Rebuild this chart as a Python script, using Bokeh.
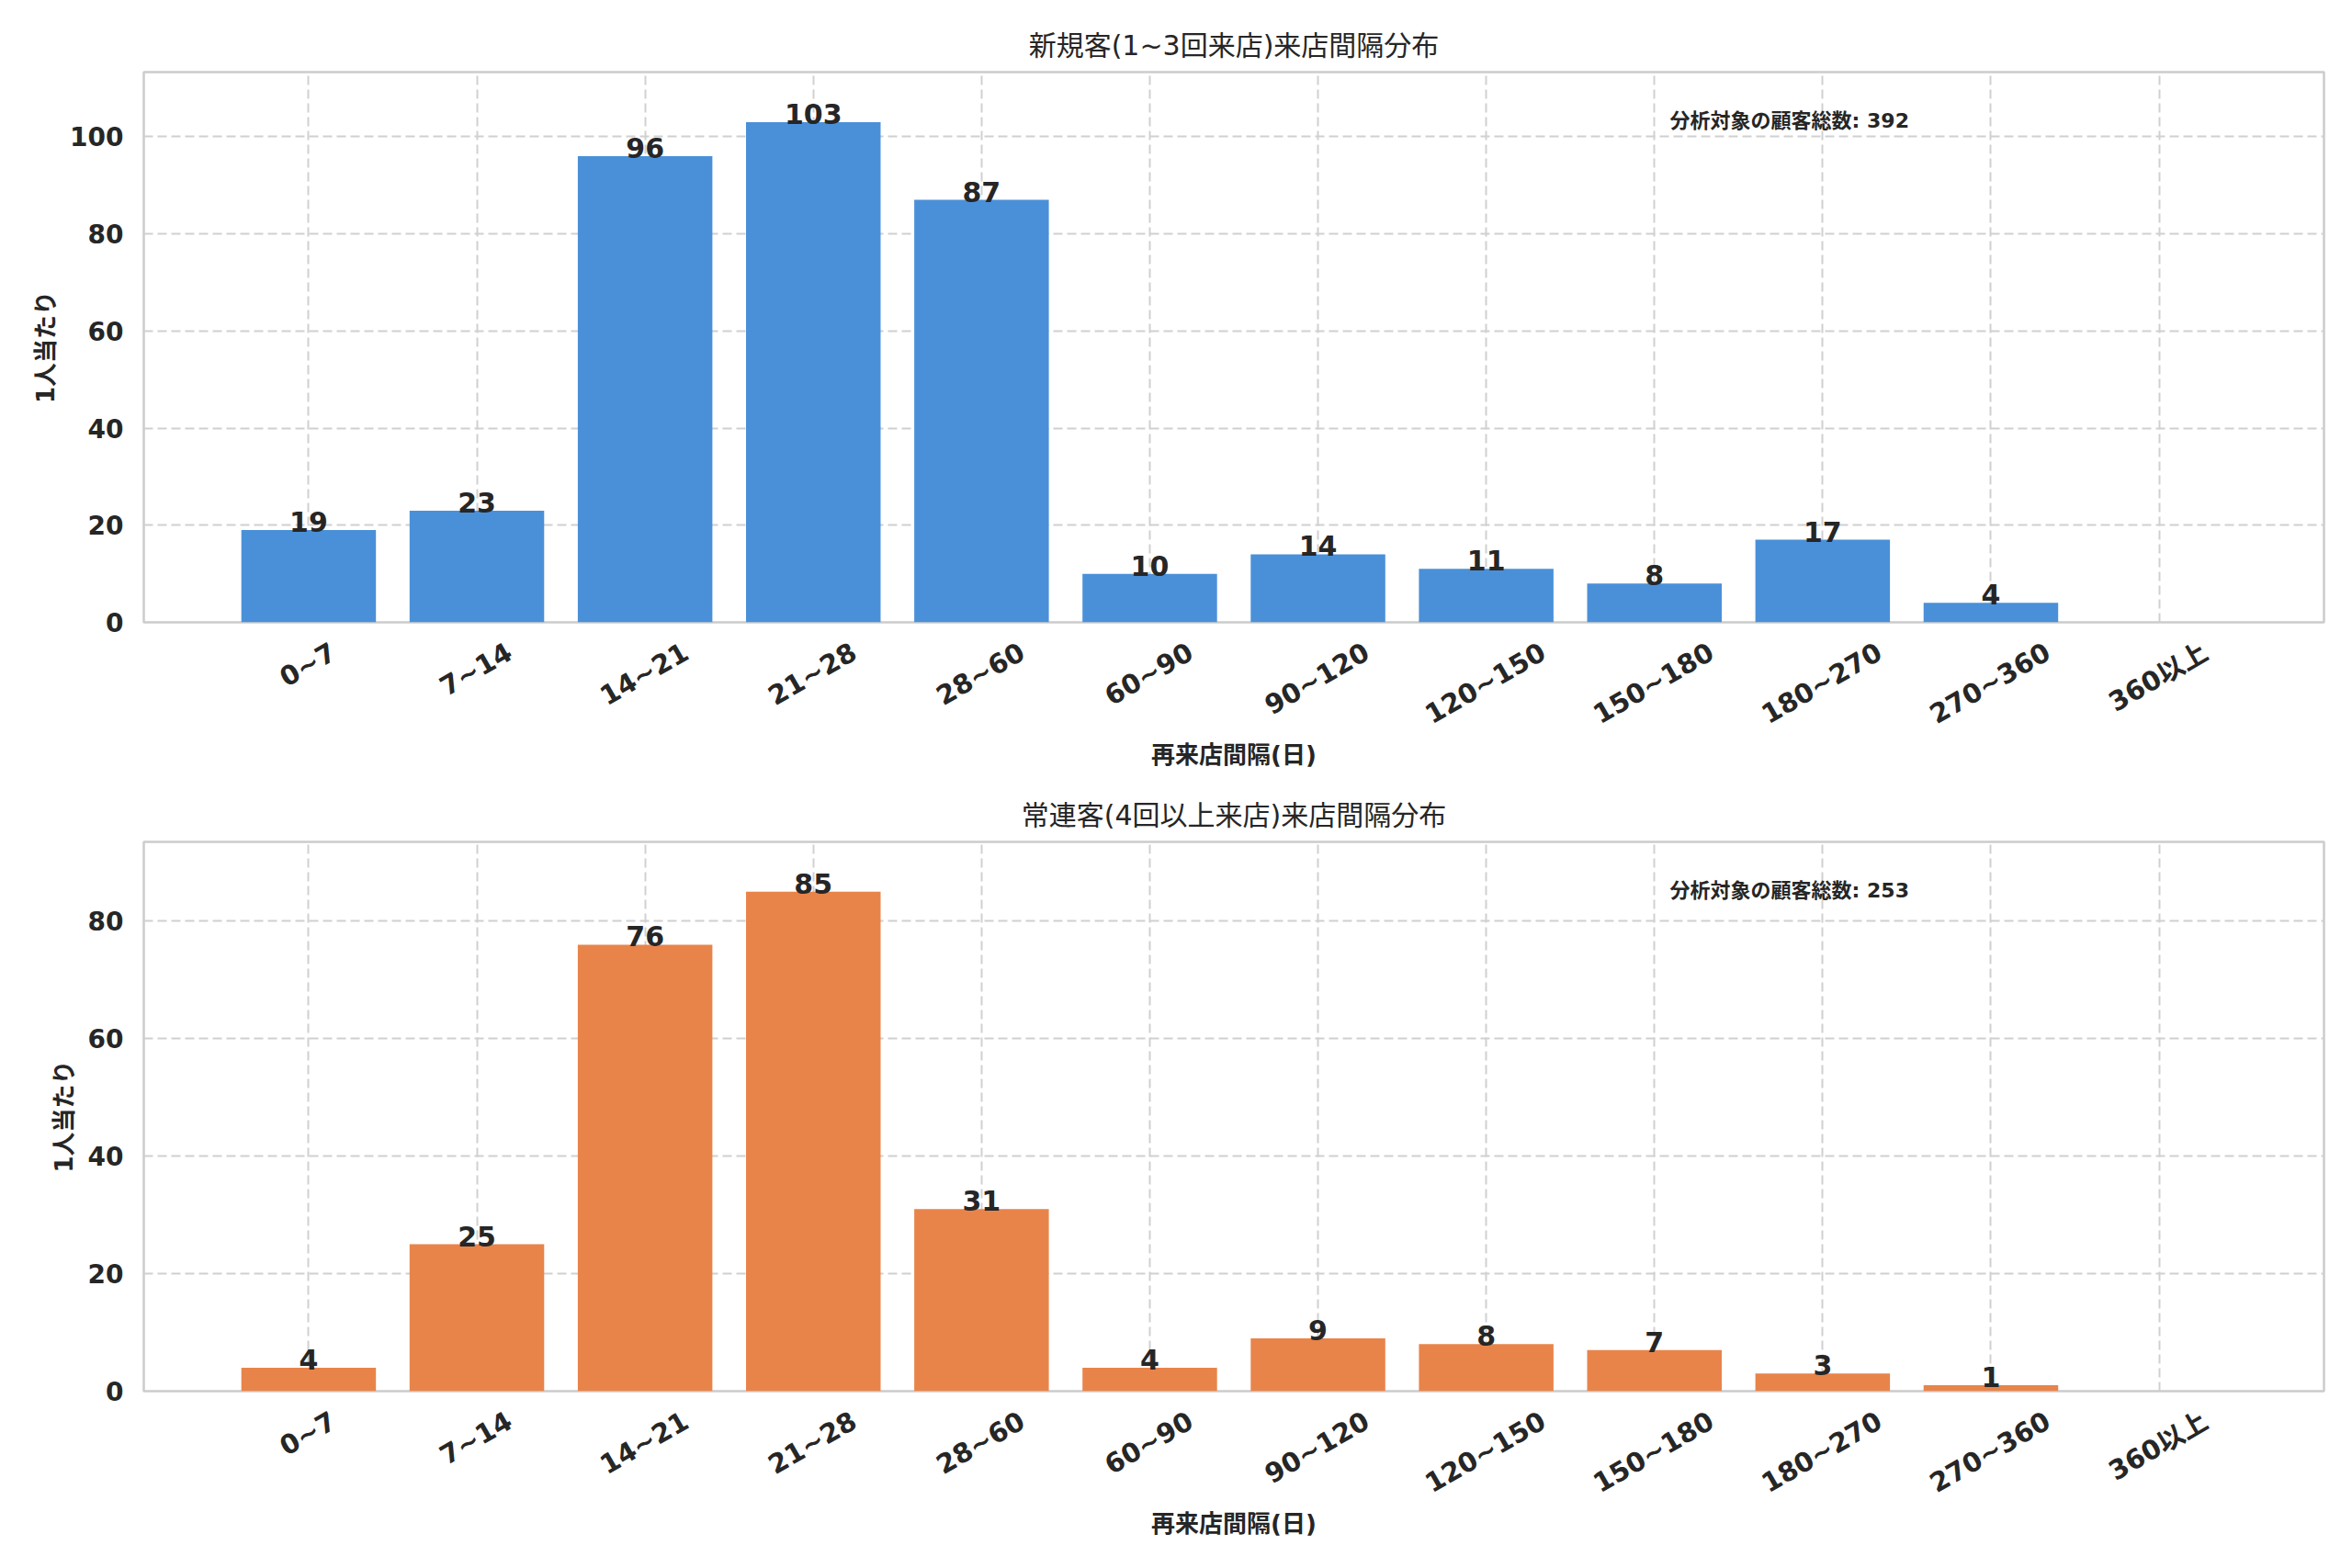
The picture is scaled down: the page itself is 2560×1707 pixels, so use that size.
import math
from bokeh.plotting import figure
from bokeh.layouts import column
from bokeh.models import ColumnDataSource, Range1d, FixedTicker, Label
from bokeh.core.properties import value
from bokeh.embed import file_html
from bokeh.resources import INLINE

# ---- data ----
categories = ["0~7", "7~14", "14~21", "21~28", "28~60", "60~90", "90~120",
              "120~150", "150~180", "180~270", "270~360", "360以上"]
light_counts = [19, 23, 96, 103, 87, 10, 14, 11, 8, 17, 4, 0]
heavy_counts = [4, 25, 76, 85, 31, 4, 9, 8, 7, 3, 1, 0]
light_yticks = [0, 20, 40, 60, 80, 100]
heavy_yticks = [0, 20, 40, 60, 80]
titles = ["新規客(1~3回来店)来店間隔分布", "常連客(4回以上来店)来店間隔分布"]
x_label = "再来店間隔(日)"
y_label = "1人当たり"
total_label = "分析対象の顧客総数"
colors = ["#4A90D9", "#E8844A"]

FONT = "DejaVu Sans, Noto Sans CJK JP"
TEXT = "#262626"
GRID = "#d0d0d0"
FRAME_W = 2373
TICK_PX = 29
ANGLE = math.pi / 6
X_START, X_END = -0.98, len(categories) - 0.02


def text_width(s, size):
    # rough advance widths of DejaVu Sans Bold (em units)
    w = 0.0
    for ch in s:
        if ch.isdigit():
            w += 0.696
        elif ch == "~":
            w += 0.838
        elif ord(ch) > 0x2000:
            w += 1.0
        else:
            w += 0.6
    return w * size


def make(counts, yticks, title, color, frame_h, top, bottom):
    idx = list(range(len(categories)))
    p = figure(
        x_range=Range1d(X_START, X_END),
        y_range=Range1d(0, max(counts) * 1.1),
        frame_width=FRAME_W, frame_height=frame_h,
        min_border_left=156, min_border_right=23,
        min_border_top=top, min_border_bottom=bottom,
        output_backend="svg", toolbar_location=None,
        background_fill_color="white", border_fill_color="white",
    )
    src = ColumnDataSource(dict(x=idx, count=counts))
    p.vbar(x="x", top="count", width=0.8, source=src,
           fill_color=color, line_color=None)

    lab_x = [i for i, v in zip(idx, counts) if v > 0]
    lab_vals = [v for v in counts if v > 0]
    lsrc = ColumnDataSource(dict(x=lab_x, y=lab_vals,
                                 t=[str(v) for v in lab_vals]))
    p.text(x="x", y="y", text="t", source=lsrc, text_align="center",
           text_baseline="bottom", y_offset=2, text_font=value(FONT),
           text_font_style="bold", text_font_size="30px", text_color=TEXT)

    # Bokeh ends a rotated tick label at its tick; shift each tick so the
    # rotated label is centred under its bar (matplotlib ha="center").
    px_per_unit = FRAME_W / (X_END - X_START)
    ticks, overrides = [], {}
    for i, c in zip(idx, categories):
        extent = text_width(c, TICK_PX) * math.cos(ANGLE)
        t = round(i + (extent / 2 - 1) / px_per_unit, 4)
        ticks.append(t)
        overrides[t] = c

    total = sum(counts)
    p.add_layout(Label(x=0.70 * FRAME_W, y=max(counts) * 1.1 * 0.89,
                       x_units="screen", y_units="data",
                       text=f"{total_label}: {total}",
                       text_font=FONT, text_font_style="bold",
                       text_font_size="22px", text_color=TEXT,
                       text_baseline="bottom", text_align="left"))

    p.title.text = title
    p.title.align = "center"
    p.title.text_font = FONT
    p.title.text_font_style = "normal"
    p.title.text_font_size = "30px"
    p.title.text_color = TEXT
    p.title.standoff = 23

    p.outline_line_color = "#cccccc"
    p.outline_line_width = 2.5

    for ax in (p.xaxis[0], p.yaxis[0]):
        ax.axis_line_color = None
        ax.major_tick_line_color = None
        ax.minor_tick_line_color = None
        ax.major_label_text_font = FONT
        ax.major_label_text_font_style = "bold"
        ax.major_label_text_font_size = "28px"
        ax.major_label_text_color = TEXT
        ax.axis_label_text_font = FONT
        ax.axis_label_text_font_style = "bold"
        ax.axis_label_text_font_size = "26px"
        ax.axis_label_text_color = TEXT

    p.yaxis.ticker = FixedTicker(ticks=yticks)
    p.yaxis.major_label_standoff = 16
    p.yaxis.axis_label = y_label
    p.yaxis.axis_label_standoff = 8

    p.xaxis.ticker = FixedTicker(ticks=ticks)
    p.xaxis.major_label_overrides = overrides
    p.xaxis.major_label_orientation = ANGLE
    p.xaxis.major_label_text_font_size = f"{TICK_PX}px"
    p.xaxis.major_label_standoff = 24
    p.xaxis.axis_label = x_label
    p.xaxis.axis_label_standoff = -6
    p.xgrid.ticker = FixedTicker(ticks=idx)

    for g in (p.xgrid[0], p.ygrid[0]):
        g.grid_line_color = GRID
        g.grid_line_dash = "10 5"
        g.grid_line_width = 2
    return p


p1 = make(light_counts, light_yticks, titles[0], colors[0], 599, 78, 169)
p2 = make(heavy_counts, heavy_yticks, titles[1], colors[1], 598, 70, 185)
layout = column(p1, p2, spacing=0)

open("out.html", "w").write(file_html(layout, INLINE))
